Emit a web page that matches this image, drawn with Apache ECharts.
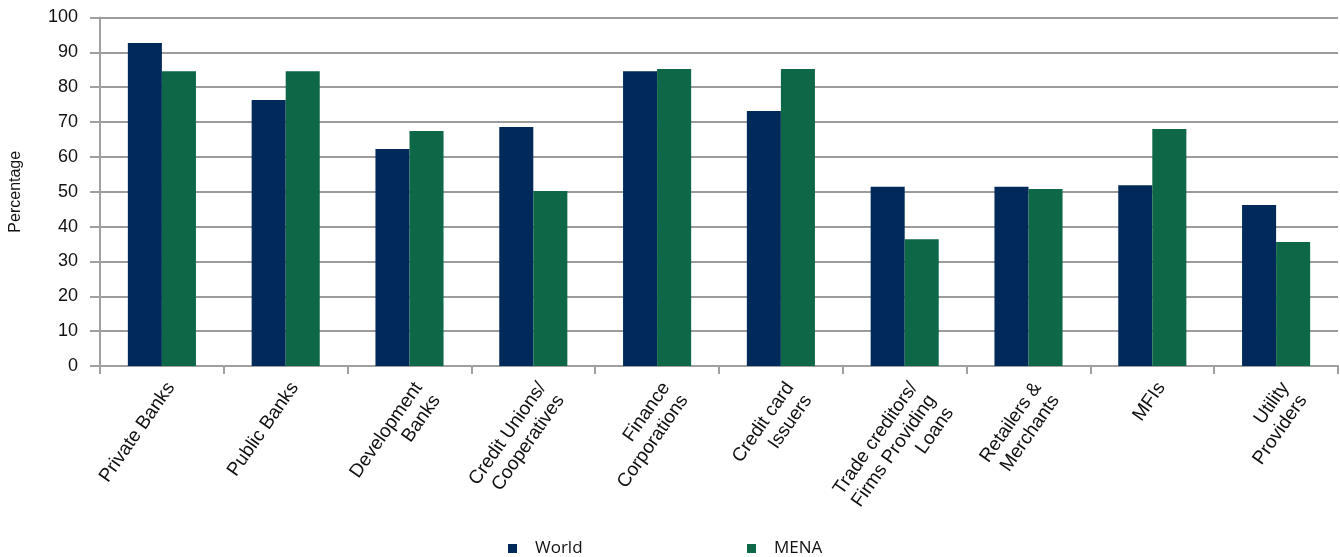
<!DOCTYPE html>
<html>
<head>
<meta charset="utf-8">
<script src="https://cdn.jsdelivr.net/npm/echarts@6/dist/echarts.min.js"></script>
<style>
html,body{margin:0;padding:0;background:#fff;}
#chart{width:1340px;height:557px;}
</style>
</head>
<body>
<div id="chart"></div>
<script>
const categories = [
  "Private Banks",
  "Public Banks",
  "Development\nBanks",
  "Credit Unions/\nCooperatives",
  "Finance\nCorporations",
  "Credit card\nIssuers",
  "Trade creditors/\nFirms Providing\nLoans",
  "Retailers &\nMerchants",
  "MFIs",
  "Utility\nProviders"
];
const worldValues = [92.7, 76.3, 62.3, 68.6, 84.6, 73.2, 51.4, 51.4, 51.9, 46.2];
const menaValues  = [84.6, 84.6, 67.4, 50.2, 85.2, 85.2, 36.4, 50.8, 68.0, 35.6];
const yTicks = [0, 10, 20, 30, 40, 50, 60, 70, 80, 90, 100];

const chart = echarts.init(document.getElementById('chart'));
const FONT = 'Liberation Sans, Arial, sans-serif';
const LEGEND_TEXT = { fontSize: 17, color: '#111', fontFamily: 'Open Sans, sans-serif', padding: [0, 0, 0, 13] };
chart.setOption({
  animation: false,
  textStyle: { fontFamily: FONT },
  grid: { left: 98, right: 2, top: 17.5, bottom: 191, containLabel: false },
  legend: [
    { data: ['World'], left: 503, top: 535, icon: 'rect', itemWidth: 9, itemHeight: 9, textStyle: LEGEND_TEXT },
    { data: ['MENA'], left: 742, top: 535, icon: 'rect', itemWidth: 9, itemHeight: 9, textStyle: LEGEND_TEXT }
  ],
  xAxis: {
    type: 'category',
    data: categories,
    axisLine: { lineStyle: { color: '#a0a0a0', width: 2 } },
    axisTick: { show: true, interval: 0, length: 8, lineStyle: { color: '#a0a0a0', width: 2 } },
    axisLabel: {
      interval: 0, rotate: 55, margin: 12, fontSize: 19, color: '#111',
      fontFamily: FONT, lineHeight: 22, align: 'right', verticalAlign: 'top'
    }
  },
  yAxis: {
    type: 'value',
    min: 0, max: 100, interval: 10,
    name: 'Percentage',
    nameLocation: 'middle',
    nameGap: 76,
    nameTextStyle: { fontSize: 16, color: '#111', fontFamily: FONT },
    axisLine: { show: true, lineStyle: { color: '#a0a0a0', width: 2 } },
    axisTick: { show: true, length: 10, lineStyle: { color: '#a0a0a0', width: 2 } },
    axisLabel: {
      fontSize: 18, color: '#111', margin: 22, fontFamily: FONT,
      formatter: v => (yTicks.indexOf(v) >= 0 ? String(v) : '')
    },
    splitLine: { show: true, lineStyle: { color: '#9c9c9c', width: 2 } }
  },
  series: [
    {
      name: 'World', type: 'bar', data: worldValues,
      itemStyle: { color: '#012a5b' },
      barGap: '0%', barCategoryGap: '45%'
    },
    {
      name: 'MENA', type: 'bar', data: menaValues,
      itemStyle: { color: '#0e6747' },
      barGap: '0%', barCategoryGap: '45%'
    }
  ]
});
</script>
</body>
</html>
